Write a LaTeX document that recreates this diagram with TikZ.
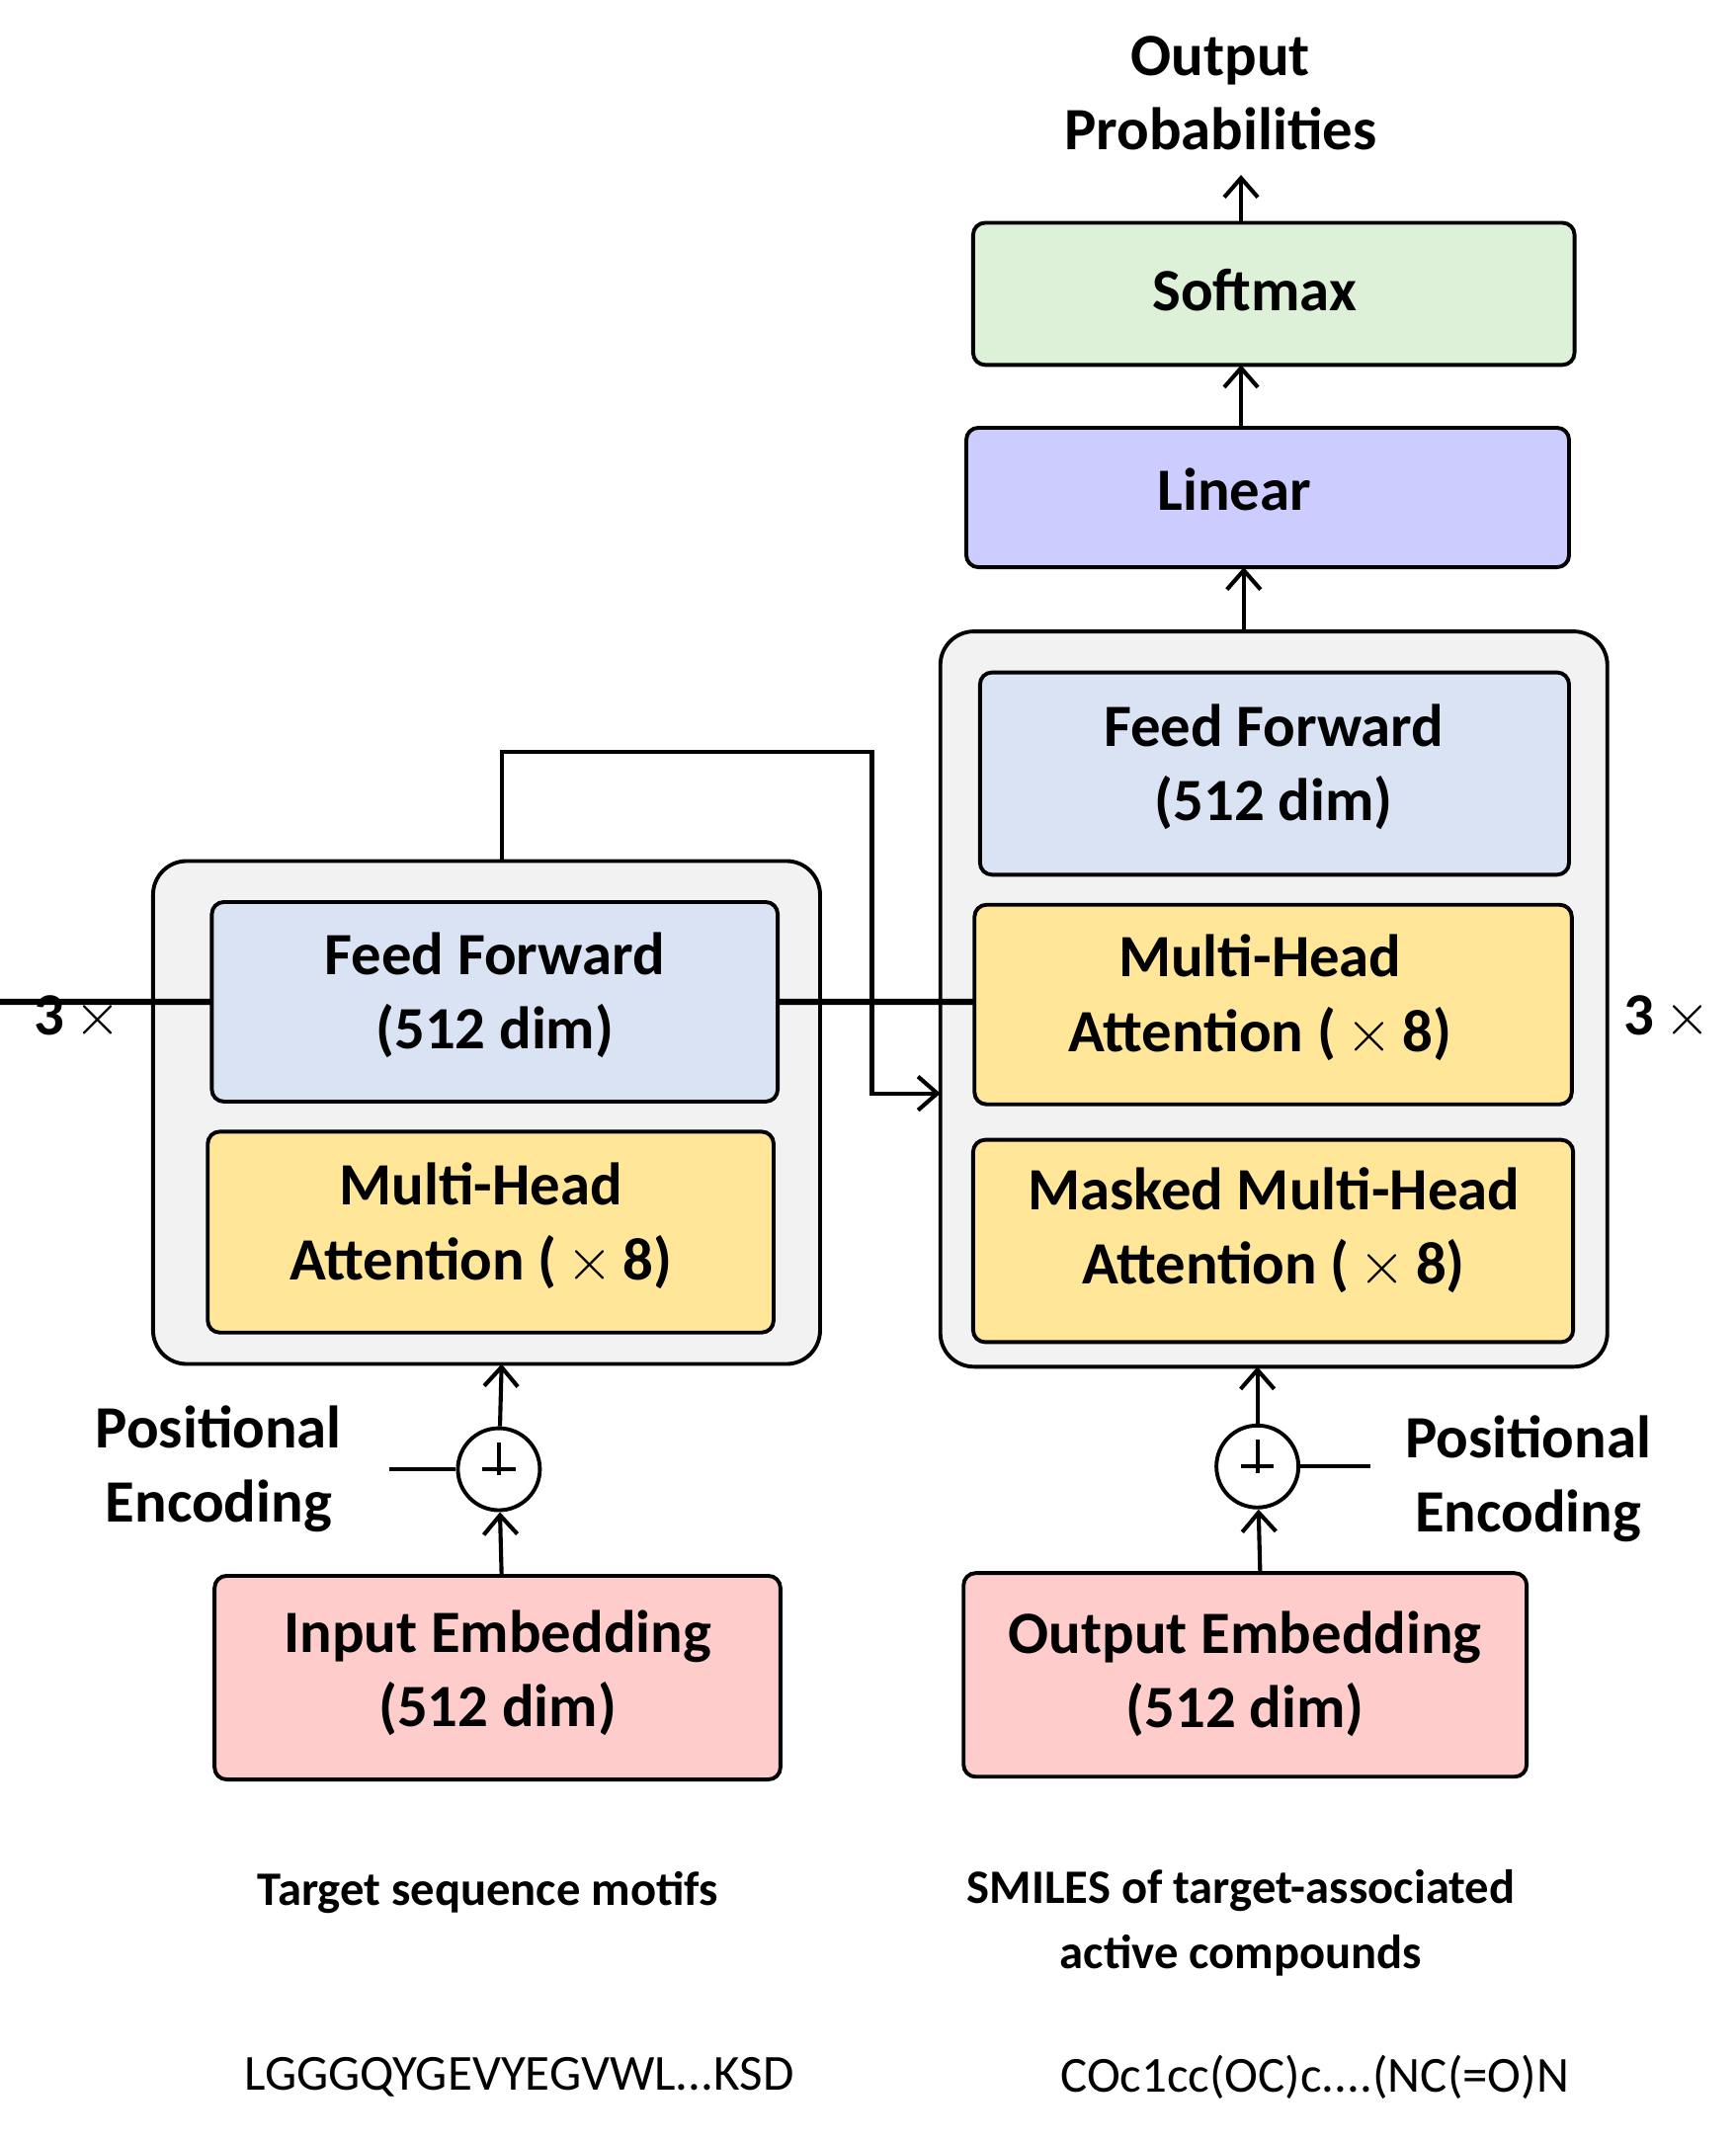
\documentclass[tikz,border=0pt]{standalone}
\usepackage{fontspec}
\setmainfont{Carlito}
\usetikzlibrary{arrows.meta}
\definecolor{cont}{HTML}{F2F2F2}
\definecolor{ff}{HTML}{DAE3F3}
\definecolor{mha}{HTML}{FFE699}
\definecolor{emb}{HTML}{FFCCCC}
\definecolor{lin}{HTML}{CCCCFF}
\definecolor{soft}{HTML}{DDF0D8}
\begin{document}
\begin{tikzpicture}[x=0.02cm,y=-0.02cm,
  line width=1.7pt,
  box/.style={draw,rounded corners=5pt,line width=1.6pt,align=center,font=\fontsize{25}{31}\selectfont\bfseries,inner sep=0pt},
  cont/.style={draw,rounded corners=14pt,line width=1.6pt,fill=cont},
  arr/.style={-{Straight Barb[length=8pt,width=14pt]}},
  lbl/.style={align=center,font=\fontsize{25}{31}\selectfont\bfseries},
  sm/.style={align=center,font=\fontsize{20}{27}\selectfont\bfseries},
  seq/.style={font=\fontsize{21}{26}\selectfont}]
\useasboundingbox (0,0) rectangle (1270,1568);
% containers
\path[cont] (112,630) rectangle (600,998); \coordinate (enctop) at (367,630); \coordinate (encbot) at (367,998);
\path[cont] (688,462) rectangle (1176,1000); \coordinate (dectop) at (910,462); \coordinate (decbot) at (920,1000);
% encoder boxes
\node[box,fill=ff,minimum width=414\pgflinewidth] (eff) at (362,733) {};
\path[box,fill=ff] (155,660) rectangle (569,806);
\node[lbl] (efft) at (362,728) {Feed Forward\\(512 dim)};
\path[box,fill=mha] (152,828) rectangle (566,975);
\node[lbl] (emha) at (352,897) {Multi-Head\\Attention (\,$\times$\,8)};
% decoder boxes
\path[box,fill=ff] (717,492) rectangle (1148,640);
\node[lbl] (dff) at (932,561) {Feed Forward\\(512 dim)};
\path[box,fill=mha] (713,662) rectangle (1150,808);
\node[lbl] (dmha) at (922,730) {Multi-Head\\Attention (\,$\times$\,8)};
\path[box,fill=mha] (712,834) rectangle (1151,982);
\node[lbl] (dmm) at (932,900) {Masked Multi-Head\\Attention (\,$\times$\,8)};
% linear/softmax
\path[box,fill=lin] (707,313) rectangle (1148,415); \node[lbl] (lin) at (903,358) {Linear};
\coordinate (linbot) at (910,415); \coordinate (lintop) at (908,313);
\path[box,fill=soft] (712,163) rectangle (1152,267); \node[lbl] (soft) at (918,212) {Softmax};
\coordinate (softbot) at (908,267); \coordinate (softtop) at (908,163);
\node[lbl] (out) at (893,68) {Output\\Probabilities};
\coordinate (outb) at (908,128);
\draw[arr] (softtop) -- (outb);
\draw[arr] (lintop) -- (softbot);
\draw[arr] (dectop) -- (linbot);
% embeddings
\path[box,fill=emb] (157,1153) rectangle (571,1302);
\node[lbl] (ie) at (364,1224) {Input Embedding\\(512 dim)};
\coordinate (ietop) at (367,1153);
\path[box,fill=emb] (705,1151) rectangle (1117,1300);
\node[lbl] (oe) at (911,1225) {Output Embedding\\(512 dim)};
\coordinate (oetop) at (922,1151);
% plus circles
\node[draw,circle,minimum size=60\pgflinewidth,minimum size=1.2cm,inner sep=0pt,line width=1.6pt] (ep) at (365,1075) {};
\draw (ep.north) ++(0,12) -- ++(0,24) (ep.center) ++(-12,0) -- ++(24,0);
\node[draw,circle,minimum size=1.2cm,inner sep=0pt,line width=1.6pt] (dp) at (920,1073) {};
\draw (dp.north) ++(0,12) -- ++(0,24) (dp.center) ++(-12,0) -- ++(24,0);
\draw[arr] (ietop) -- (ep);
\draw[arr] (ep) -- (encbot);
\draw[arr] (oetop) -- (dp);
\draw[arr] (dp) -- (decbot);
\coordinate (pel) at (285,1075); \coordinate (per) at (1003,1073);
\draw (pel) -- (ep); \draw (dp) -- (per);
\node[lbl] (pe1) at (160,1075) {Positional\\Encoding};
\node[lbl] (pe2) at (1118,1082) {Positional\\Encoding};
% enc->dec
\coordinate (c1) at (367,550); \coordinate (c2) at (638,550); \coordinate (c3) at (638,800); \coordinate (c4) at (688,800);
\draw[arr] (enctop) -- (c1) -- (c2) -- (c3) -- (c4);
% 3x
\node[lbl] (n1) at (57,745) {3\,$\times$};
\node[lbl] (n2) at (1220,745) {3\,$\times$};
% bottom
\node[sm] (t1) at (357,1385) {Target sequence motifs};
\node[sm] (t2) at (908,1407) {SMILES of target-associated\\active compounds};
\node[seq] (s1) at (380,1520) {LGGGQYGEVYEGVWL...KSD};
\node[seq] (s2) at (962,1520) {COc1cc(OC)c....(NC(=O)N};
\end{tikzpicture}
\end{document}
